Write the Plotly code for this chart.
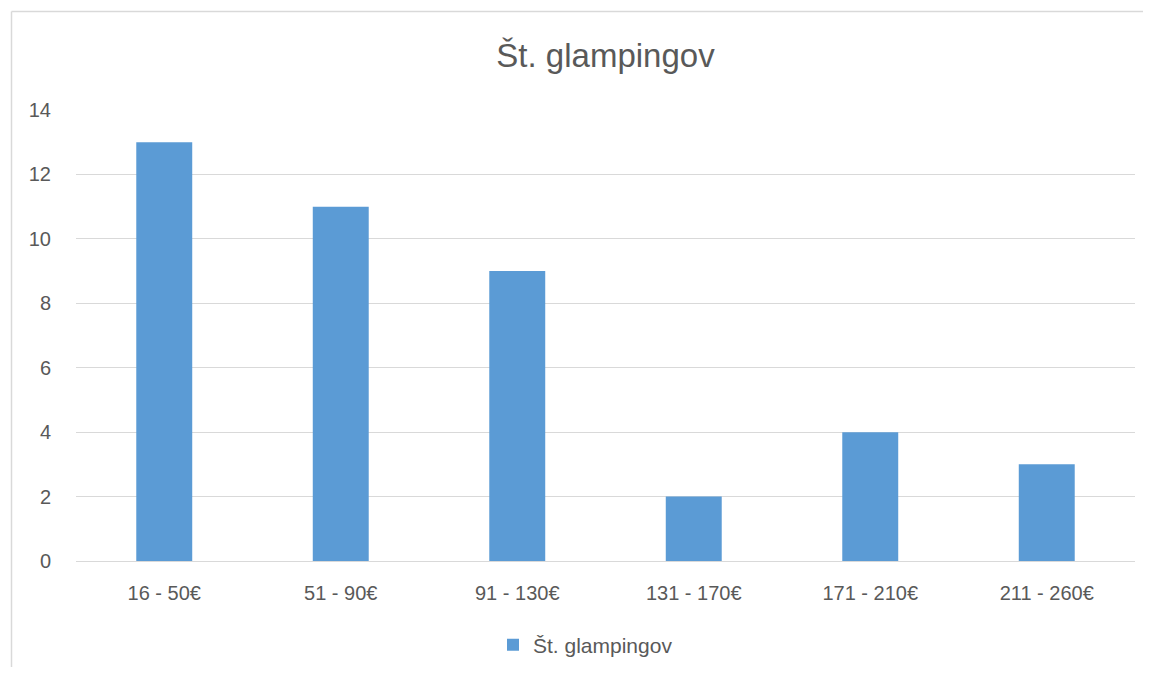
import plotly.graph_objects as go

categories = ["16 - 50€", "51 - 90€", "91 - 130€", "131 - 170€", "171 - 210€", "211 - 260€"]
values = [13, 11, 9, 2, 4, 3]
series_name = "Št. glampingov"
y_ticks = [0, 2, 4, 6, 8, 10, 12, 14]

OFF = 8  # page body offset
W, H = 1151 - 2 * OFF, 675 - 2 * OFF
L, T = 76 - OFF, 110 - OFF
R = W - (1135 - OFF)
B = H - (561 - OFF)
pw, ph = W - L - R, H - T - B

fig = go.Figure()
fig.add_trace(go.Bar(x=categories, y=values, name=series_name,
                     marker=dict(color="#5b9bd5", line=dict(width=0))))

fig.update_layout(
    width=W, height=H,
    margin=dict(l=L, r=R, t=T, b=B, autoexpand=False),
    paper_bgcolor="white", plot_bgcolor="white",
    font=dict(family="Liberation Sans, Arial, sans-serif", color="#595959", size=20),
    title=dict(text=series_name, x=0.5, xref="paper",
               y=1 - (55 - OFF) / H, yanchor="middle", xanchor="center",
               font=dict(size=33, color="#595959")),
    bargap=0.683,
    showlegend=True,
    legend=dict(orientation="h", x=0.5 - 20 / pw, xanchor="center",
                yref="container", y=1 - (645 - OFF) / H,
                yanchor="middle", itemwidth=30, font=dict(size=21, color="#595959")),
    xaxis=dict(showgrid=False, showline=True, linecolor="#d9d9d9", linewidth=1,
               ticks="outside", ticklen=14, tickcolor="rgba(0,0,0,0)", automargin=False,
               tickfont=dict(size=20, color="#595959")),
    yaxis=dict(range=[0, 14], tickvals=y_ticks, showgrid=True, gridcolor="#d9d9d9",
               gridwidth=1, zeroline=False, showline=False, automargin=False,
               ticks="outside", ticklen=20, tickcolor="rgba(0,0,0,0)",
               tickfont=dict(size=20, color="#595959")),
)

# chart border (Excel-like frame): left and top edges only are visible
fig.add_shape(type="line", xref="container" if False else "paper", yref="paper",
              x0=(11.5 - 76) / pw, x1=(11.5 - 76) / pw,
              y0=-0.5, y1=1 + (110 - 11.5) / ph,
              line=dict(color="#d9d9d9", width=1.5), layer="below")
fig.add_shape(type="line", xref="paper", yref="paper",
              x0=(11.5 - 76) / pw, x1=1.2,
              y0=1 + (110 - 11.5) / ph, y1=1 + (110 - 11.5) / ph,
              line=dict(color="#d9d9d9", width=1.5), layer="below")

fig.write_html("out.html")
